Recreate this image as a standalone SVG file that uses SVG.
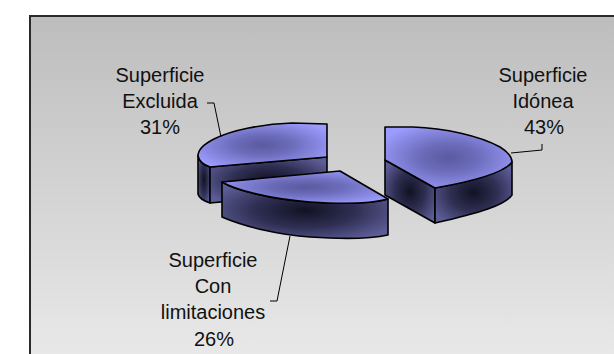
<svg xmlns="http://www.w3.org/2000/svg" width="614" height="354" viewBox="0 0 614 354">
  <defs>
    <linearGradient id="bg" x1="0" y1="0" x2="0" y2="1">
      <stop offset="0" stop-color="#bdbdbd"/>
      <stop offset="1" stop-color="#ebebeb"/>
    </linearGradient>
    <radialGradient id="topG" cx="0.5" cy="0.5" r="0.6">
      <stop offset="0" stop-color="#5a5aa0"/>
      <stop offset="0.35" stop-color="#6a6ab8"/>
      <stop offset="1" stop-color="#9c9cff"/>
    </radialGradient>
    <radialGradient id="sideG" cx="0.5" cy="0.5" r="0.6">
      <stop offset="0" stop-color="#121224"/>
      <stop offset="0.5" stop-color="#2e2e52"/>
      <stop offset="1" stop-color="#5c5c96"/>
    </radialGradient>
    <style>
      .face { stroke: #000; stroke-width: 1.6; stroke-linejoin: round; }
      .top { fill: url(#topG); }
      .side { fill: url(#sideG); }
      .lbl { font-family: "Liberation Sans", Arial, sans-serif; font-size: 20px; fill: #111; text-anchor: middle; }
      .lead { fill: none; stroke: #000; stroke-width: 1; }
    </style>
  </defs>

  <rect x="0" y="0" width="614" height="354" fill="#fff"/>
  <rect x="30" y="16" width="600" height="360" fill="url(#bg)" stroke="#2a2a2a" stroke-width="2"/>

  <g id="slice-excluida">
    <path class="face side" d="M198,156 C199,161 204,165 210,167 L210,203 C204,201 199,198 198,194 Z"/>
    <path class="face side" d="M210,167 L327,157 L327,192 L210,203 Z"/>
    <path class="face top" d="M327,124 L292,123 C262,124 232,130 214,139 C204,144 198,150 198,156 C199,161 204,165 210,167 L327,157 Z"/>
  </g>

  <g id="slice-limitaciones">
    <path class="face side" d="M222,182 C235,190 270,199 310,202 C340,204 370,204 388,199 L388,235 C370,239 340,239 310,237 C280,235 245,227 222,217 Z"/>
    <path class="face top" d="M222,182 L340,171 L388,199 C370,204 340,204 310,202 C270,199 235,190 222,182 Z"/>
  </g>

  <g id="slice-idonea">
    <path class="face side" d="M385,160 L435,188 L435,223 L385,195 Z"/>
    <path class="face side" d="M435,188 C480,180 505,172 512,162 L512,195 C505,205 480,213 435,223 Z"/>
    <path class="face top" d="M385,127 L413,127 C445,128 480,136 500,147 C508,152 512,157 512,162 C505,172 480,180 435,188 L385,160 Z"/>
  </g>

  <g id="connectors">
    <path class="lead" d="M207,103 L214,103 L221,137"/>
    <path class="lead" d="M511,153 L542,150 L542,144"/>
    <path class="lead" d="M290,236 L277,301 L270,301"/>
  </g>

  <g id="label-excluida">
    <text class="lbl" x="160" y="82">Superficie</text>
    <text class="lbl" x="160" y="108">Excluida</text>
    <text class="lbl" x="160" y="134">31%</text>
  </g>
  <g id="label-idonea">
    <text class="lbl" x="543" y="82">Superficie</text>
    <text class="lbl" x="543" y="108">Idónea</text>
    <text class="lbl" x="544" y="134">43%</text>
  </g>
  <g id="label-limitaciones">
    <text class="lbl" x="213" y="267">Superficie</text>
    <text class="lbl" x="213" y="293">Con</text>
    <text class="lbl" x="213" y="319">limitaciones</text>
    <text class="lbl" x="214" y="346">26%</text>
  </g>
</svg>
